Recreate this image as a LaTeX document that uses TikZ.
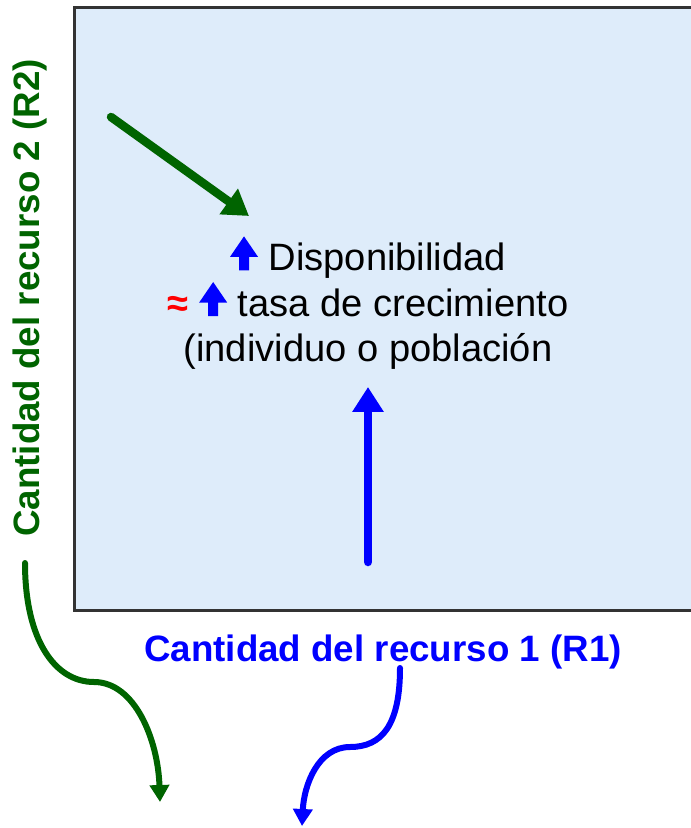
\documentclass[tikz,border=0pt]{standalone}
\usepackage{fontspec}
\setmainfont{Liberation Sans}
\usepackage{tikz}
\usetikzlibrary{arrows.meta,positioning,calc}

\definecolor{plotfill}{RGB}{222,236,250}
\definecolor{rdosgreen}{RGB}{0,100,0}

% small bold up arrow used inside the text
\newcommand{\blueup}{\tikz[x=1cm,y=1cm,baseline=-0.11cm]\fill[blue] (-0.1,-0.11) -- (-0.1,0.16) -- (-0.28,0.16) -- (0,0.57) -- (0.28,0.16) -- (0.1,0.16) -- (0.1,-0.11) -- cycle;}

\begin{document}
\begin{tikzpicture}[x=0.02cm,y=-0.02cm,
		axislabel/.style={font=\fontsize{20.9}{25}\selectfont\bfseries, inner sep=0pt},
		fatarrow/.style={line width=0.17cm, line cap=round, -{Triangle[length=0.5cm,width=0.6cm]}},
		curvearrow/.style={line width=0.12cm, line cap=round, -{Triangle[length=0.34cm,width=0.38cm]}}
	]
		\useasboundingbox (0,0) rectangle (690,828);

		% plot area
		\draw[fill=plotfill, draw=black!80, line width=0.06cm] (74,8) rectangle (720,610);

		% text in the middle
		\node[align=center, inner sep=0pt, font=\fontsize{21.7}{26}\selectfont] (txt) at (368,303)
			{\blueup\ Disponibilidad\\
			 {\color{red}\bfseries ≈} \blueup\ tasa de crecimiento\\
			 (individuo o población};

		% axis labels
		\node[axislabel, text=blue] (rone) at (383,652) {Cantidad del recurso 1 (R1)};
		\node[axislabel, text=rdosgreen, rotate=90] (rtwo) at (30,298) {Cantidad del recurso 2 (R2)};

		\coordinate (gstart) at (111,117);
		\coordinate (gend) at (249,216);
		\coordinate (bstart) at (368,562);
		\coordinate (bend) at (368,387);
		\draw[fatarrow, draw=rdosgreen] (gstart) -- (gend);
		\draw[fatarrow, draw=blue] (bstart) -- (bend);

		% curved arrows below the labels
		\coordinate (gc) at (25,563);
		\coordinate (gmid) at (94,682);
		\coordinate (gtip) at (160,802);
		\draw[curvearrow, draw=rdosgreen] (gc) .. controls (25,640) and (55,682) .. (gmid)
			.. controls (135,682) and (158,740) .. (gtip);
		\coordinate (bc) at (400,668);
		\coordinate (bmid) at (350,747);
		\coordinate (btip) at (302,826);
		\draw[curvearrow, draw=blue] (bc) .. controls (400,725) and (382,747) .. (bmid)
			.. controls (318,747) and (304,785) .. (btip);
	\end{tikzpicture}
\end{document}
